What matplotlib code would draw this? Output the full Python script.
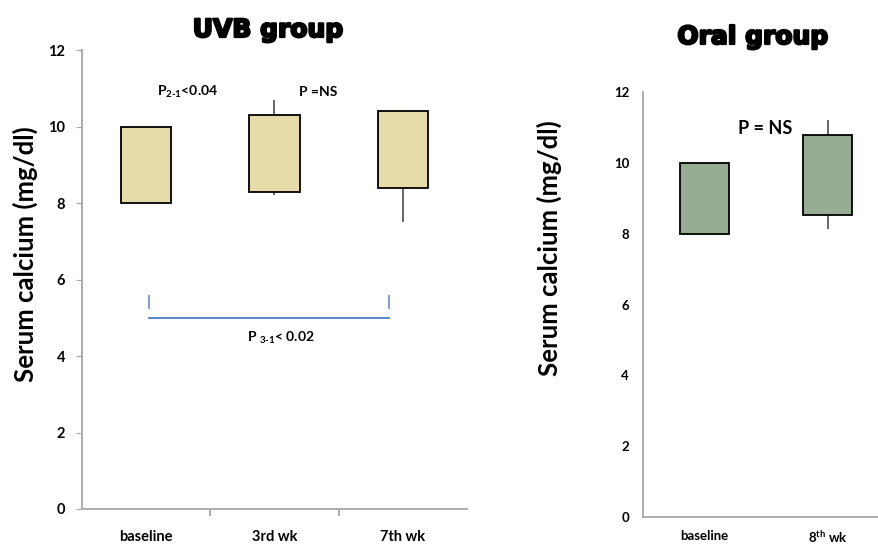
import matplotlib.pyplot as plt
import matplotlib.patheffects as pe
import numpy as np

plt.rcParams['font.family'] = ['Lato', 'DejaVu Sans']
plt.rcParams['mathtext.fontset'] = 'custom'
plt.rcParams['mathtext.rm'] = 'Lato:bold'
plt.rcParams['mathtext.bf'] = 'Lato:bold'
plt.rcParams['mathtext.default'] = 'rm'

# UVB group: box = lower/upper value, whiskers = min/max
uvb_labels = ['baseline', '3rd wk', '7th wk']
uvb_low = [8.0, 8.3, 8.4]
uvb_high = [10.0, 10.3, 10.4]
uvb_min = [8.0, 8.2, 7.5]
uvb_max = [10.0, 10.7, 10.4]

# Oral group
oral_labels = ['baseline', '8$^{th}$ wk']
oral_low = [8.0, 8.53]
oral_high = [10.0, 10.8]
oral_min = [8.0, 8.13]
oral_max = [10.0, 11.2]

yticks = [0, 2, 4, 6, 8, 10, 12]

uvb_color = '#e6dcaa'
oral_color = '#96ad94'
axis_grey = '#a6a6a6'

# heavy look for the titles
heavy = [pe.withStroke(linewidth=1.6, foreground='black')]


def draw_boxes(ax, labels, low, high, vmin, vmax, color, width):
    x = np.arange(len(labels))
    low = np.array(low)
    high = np.array(high)
    ax.vlines(x, vmin, low, color='#595959', lw=1.3, zorder=1)
    ax.vlines(x, high, vmax, color='#595959', lw=1.3, zorder=1)
    ax.bar(x, high - low, bottom=low, width=width, color=color,
           edgecolor='black', linewidth=1.3, zorder=2)
    ax.set_xlim(-0.5, len(labels) - 0.5)
    ax.set_ylim(0, 12)
    ax.set_yticks(yticks)
    ax.set_xticks(x)
    ax.set_xticklabels(labels, fontweight='bold')
    for s in ['top', 'right']:
        ax.spines[s].set_visible(False)
    for s in ['left', 'bottom']:
        ax.spines[s].set_color(axis_grey)
        ax.spines[s].set_linewidth(1.3)
    for t in ax.get_yticklabels():
        t.set_fontweight('bold')
    return x


fig = plt.figure(figsize=(8.79, 5.47), dpi=100)

# ---- UVB group ----
ax1 = fig.add_axes([82 / 879, 38 / 547, 385 / 879, 459 / 547])
draw_boxes(ax1, uvb_labels, uvb_low, uvb_high, uvb_min, uvb_max, uvb_color, 0.39)
ax1.tick_params(axis='y', labelsize=10.5, length=4, color=axis_grey, pad=8)
ax1.tick_params(axis='x', which='major', labelsize=10.5, length=0, pad=15)
ax1.set_xticks([0.5, 1.5], minor=True)
ax1.tick_params(axis='x', which='minor', length=5, color=axis_grey, width=1.3)
ax1.set_ylabel('Serum calcium (mg/dl)', fontsize=18.5, fontweight='bold')
ax1.yaxis.set_label_coords(-0.113, 0.555)

ax1.text(0.32, 10.9, r'P$_{\text{2-1}}$<0.04', ha='center', va='center',
         fontsize=10, fontweight='bold')
ax1.text(1.34, 10.9, 'P =NS', ha='center', va='center', fontsize=10, fontweight='bold')

# bracket between baseline and 7th wk
br_color = '#4a7ec6'
ax1.plot([0.02, 1.89], [5.0, 5.0], color=br_color, lw=1.3)
ax1.vlines([0.02, 1.89], 5.22, 5.6, color=br_color, lw=1.3, alpha=0.8)
ax1.text(1.05, 4.47, r'P $_{\text{3-1}}$< 0.02', ha='center', va='center',
         fontsize=10, fontweight='bold')

fig.text(268 / 879, 1 - 30 / 547, 'UVB group', ha='center', va='center',
         fontsize=18, fontweight='bold', family='DejaVu Sans', path_effects=heavy)

# ---- Oral group ----
ax2 = fig.add_axes([643 / 879, 30 / 547, 246 / 879, 425 / 547])
draw_boxes(ax2, oral_labels, oral_low, oral_high, oral_min, oral_max, oral_color, 0.40)
ax2.tick_params(axis='y', labelsize=9.5, length=0, pad=10)
ax2.tick_params(axis='x', labelsize=9.5, length=0, pad=9)
ax2.set_ylabel('Serum calcium (mg/dl)', fontsize=18.5, fontweight='bold')
ax2.yaxis.set_label_coords(-0.329, 0.633)
ax2.text(0.49, 10.98, 'P = NS', ha='center', va='center', fontsize=13, fontweight='bold')

fig.text(753 / 879, 1 - 37 / 547, 'Oral group', ha='center', va='center',
         fontsize=18, fontweight='bold', family='DejaVu Sans', path_effects=heavy)

fig.savefig('out.png', dpi=100)
